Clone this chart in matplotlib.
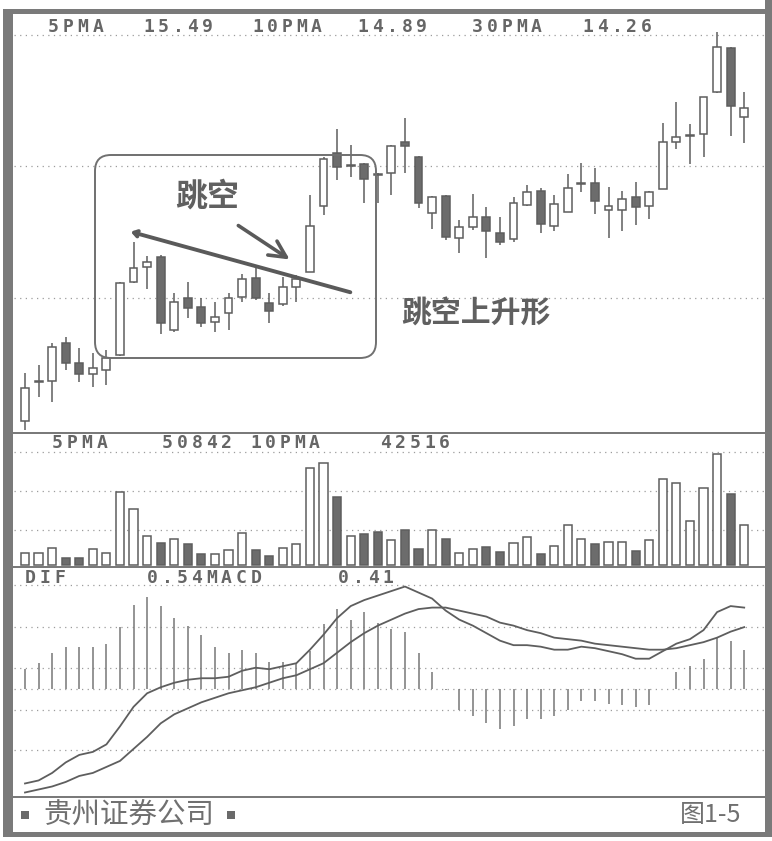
import matplotlib
matplotlib.use("Agg")
import matplotlib.pyplot as plt
from matplotlib.patches import Rectangle, FancyBboxPatch, FancyArrowPatch
from matplotlib.transforms import IdentityTransform

# ---------------- data ----------------
opens = [10.44, 11.05, 11.08, 11.67, 11.36, 11.19, 11.25, 11.48, 12.62, 12.86,
         13.01, 11.87, 12.37, 12.23, 12.00, 12.14, 12.39, 12.69, 12.30, 12.28,
         12.55, 12.78, 13.81, 14.64, 14.44, 14.47, 14.31, 14.33, 14.81, 14.58,
         13.70, 13.97, 13.31, 13.48, 13.64, 13.39, 13.30, 13.83, 14.05, 13.50,
         13.72, 14.16, 14.17, 13.75, 13.75, 13.95, 13.81, 14.08, 14.81, 14.91,
         14.94, 15.59, 16.28, 15.20]
highs = [11.20, 11.33, 11.67, 11.76, 11.59, 11.51, 11.56, 12.62, 13.25, 13.03,
         13.05, 12.45, 12.62, 12.37, 12.31, 12.45, 12.75, 12.86, 12.45, 12.70,
         12.73, 13.98, 14.58, 15.01, 14.76, 14.48, 14.33, 14.76, 15.19, 14.59,
         13.96, 13.98, 13.59, 14.00, 13.80, 13.64, 13.95, 14.14, 14.09, 13.98,
         14.31, 14.48, 14.41, 14.11, 14.05, 14.19, 14.04, 15.11, 15.44, 15.09,
         15.52, 16.53, 16.29, 15.59]
lows = [10.31, 10.83, 10.75, 11.25, 11.05, 10.98, 11.01, 11.47, 12.61, 12.51,
        11.80, 11.84, 12.06, 11.92, 11.84, 11.87, 12.31, 12.34, 11.98, 12.25,
        12.31, 12.77, 13.67, 14.22, 14.26, 13.86, 13.86, 13.98, 14.33, 13.78,
        13.45, 13.28, 13.08, 13.44, 13.00, 13.20, 13.25, 13.81, 13.39, 13.41,
        13.71, 14.03, 13.69, 13.31, 13.42, 13.51, 13.61, 14.07, 14.70, 14.47,
        14.58, 15.58, 14.91, 14.80]
closes = [10.97, 11.07, 11.61, 11.36, 11.19, 11.28, 11.44, 12.61, 12.84, 12.94,
          11.98, 12.31, 12.22, 11.98, 12.08, 12.37, 12.67, 12.37, 12.16, 12.55,
          12.67, 13.50, 14.55, 14.42, 14.45, 14.23, 14.30, 14.75, 14.75, 13.86,
          13.95, 13.33, 13.48, 13.64, 13.41, 13.25, 13.86, 14.02, 13.53, 13.84,
          14.09, 14.17, 13.89, 13.81, 13.92, 13.80, 14.03, 14.81, 14.89, 14.92,
          15.51, 16.30, 15.37, 15.34]
volumes = [9200, 9200, 12900, 4950, 4950, 11600, 9200, 54000, 41300, 21800,
           16600, 19100, 15300, 8200, 8200, 10900, 23500, 11100, 6900, 12400,
           15600, 71800, 76000, 50700, 21500, 23000, 24300, 18600, 26000, 11900,
           26000, 19300, 9200, 11900, 13600, 9700, 16600, 21000, 8200, 14100,
           29500, 19600, 15600, 16800, 16800, 10200, 18600, 64100, 60900, 32700,
           56900, 82210, 52500, 29900]
dif = [-0.63, -0.61, -0.56, -0.49, -0.44, -0.42, -0.37, -0.25, -0.12, -0.03,
       0.01, 0.04, 0.06, 0.07, 0.07, 0.08, 0.12, 0.14, 0.13, 0.15,
       0.17, 0.26, 0.36, 0.47, 0.55, 0.59, 0.62, 0.65, 0.68, 0.64,
       0.60, 0.52, 0.46, 0.42, 0.37, 0.32, 0.29, 0.29, 0.28, 0.26,
       0.26, 0.28, 0.27, 0.25, 0.23, 0.20, 0.20, 0.25, 0.30, 0.33,
       0.39, 0.51, 0.55, 0.54]
dea = [-0.69, -0.67, -0.65, -0.62, -0.58, -0.56, -0.52, -0.48, -0.40, -0.32,
       -0.23, -0.17, -0.13, -0.09, -0.06, -0.03, -0.01, 0.01, 0.04, 0.07,
       0.09, 0.13, 0.17, 0.24, 0.31, 0.37, 0.42, 0.46, 0.50, 0.53,
       0.54, 0.54, 0.52, 0.50, 0.48, 0.44, 0.42, 0.39, 0.37, 0.34,
       0.33, 0.32, 0.30, 0.29, 0.28, 0.27, 0.26, 0.26, 0.27, 0.29,
       0.31, 0.34, 0.38, 0.41]
macd_hist = [0.13, 0.17, 0.24, 0.28, 0.28, 0.28, 0.30, 0.41, 0.56, 0.61,
             0.55, 0.47, 0.42, 0.36, 0.28, 0.24, 0.26, 0.24, 0.18, 0.18,
             0.17, 0.25, 0.43, 0.53, 0.46, 0.51, 0.44, 0.40, 0.38, 0.24,
             0.11, -0.01, -0.14, -0.18, -0.23, -0.27, -0.25, -0.20, -0.20, -0.18,
             -0.14, -0.08, -0.08, -0.10, -0.11, -0.12, -0.11, 0.00, 0.11, 0.15,
             0.20, 0.34, 0.32, 0.26]

price_header = [("5PMA", 48), ("15.49", 143), ("10PMA", 252), ("14.89", 357),
                ("30PMA", 472), ("14.26", 582)]
volume_header = [("5PMA", 52), ("50842", 162), ("10PMA", 250), ("42516", 380)]
macd_header = [("DIF", 25), ("0.54MACD", 147), ("0.41", 338)]
price_grid = [16.48, 14.44, 12.37]
volume_grid = [26000, 54900, 83800]
macd_grid = [0.69, 0.41, 0.14, 0.0, -0.14, -0.41]
label_gap = "跳空"
label_pattern = "跳空上升形"
footer_left = "贵州证券公司"
footer_right = "图1-5"

# ---------------- figure ----------------
W, H = 772, 841
fig = plt.figure(figsize=(W / 100, H / 100), dpi=100)
fig.patch.set_facecolor("white")

GRAY = "#6c6c6c"
LINE = "#5e5e5e"
GRID = "#9c9c9c"
TXT = "#666666"
LEFT, RIGHT = 14, 765


def ax_at(y0, y1):
    a = fig.add_axes([LEFT / W, 1 - y1 / H, (RIGHT - LEFT) / W, (y1 - y0) / H])
    a.set_axis_off()
    a.set_xlim((LEFT - 25) / 13.57, (RIGHT - 25) / 13.57)
    return a


ax_p = ax_at(14, 433)
ax_v = ax_at(433, 567)
ax_m = ax_at(567, 797)
ax_p.set_ylim(10.26, 16.81)
ax_v.set_ylim(-1480, 97900)
ax_m.set_ylim(-0.72, 0.81)

gkw = dict(color=GRID, lw=0.9, dashes=(1, 3.5), zorder=0)
for g in price_grid:
    ax_p.axhline(g, **gkw)
for g in volume_grid:
    ax_v.axhline(g, **gkw)
for g in macd_grid:
    ax_m.axhline(g, **gkw)

n = len(closes)
xs = list(range(n))
bw = 0.58
for i in xs:
    o, h, l, c = opens[i], highs[i], lows[i], closes[i]
    up = c >= o
    ax_p.vlines(i, l, h, color=LINE, lw=1.1, zorder=2)
    lo, hi = min(o, c), max(o, c)
    ax_p.add_patch(Rectangle((i - bw / 2, lo), bw, max(hi - lo, 0.012),
                             facecolor="white" if up else GRAY,
                             edgecolor=LINE, lw=1.1, zorder=3))
    ax_v.bar(i, volumes[i], width=0.6, bottom=0,
             facecolor="white" if up else GRAY, edgecolor=LINE, lw=1.1, zorder=3)

ax_m.vlines(xs, 0, macd_hist, color="#777777", lw=1.1, zorder=2)
ax_m.plot(xs, dif, color=LINE, lw=1.3, zorder=3)
ax_m.plot(xs, dea, color=LINE, lw=1.3, zorder=3)


# ---------------- helpers in pixel coords ----------------
def fx(x):
    return x / W


def fy(y):
    return 1 - y / H


def chars(s, x, y, pitch=14.8):
    for k, ch in enumerate(s):
        fig.text(fx(x + k * pitch), fy(y), ch, ha="left", va="center",
                 family="DejaVu Sans Mono", weight="bold", fontsize=13,
                 color=TXT)


for s, x in price_header:
    chars(s, x, 27)
for s, x in volume_header:
    chars(s, x, 443)
for s, x in macd_header:
    chars(s, x, 578)

ID = IdentityTransform()


def rect(x0, y0, x1, y1, color):
    fig.add_artist(Rectangle((x0, H - y1), x1 - x0, y1 - y0, transform=ID,
                             facecolor=color, edgecolor="none", zorder=10))


FR = "#7a7a7a"
rect(3, 9, 13, 837, FR)        # left border
rect(3, 9, 772, 14, FR)        # top border
rect(765, 0, 772, 837, FR)     # right border
rect(3, 832, 772, 837, FR)     # bottom border
rect(13, 432, 765, 434, FR)    # price / volume separator
rect(13, 566, 765, 568, FR)    # volume / macd separator
rect(13, 796, 765, 798, FR)    # macd / footer separator

# annotation box, trend line, pointer arrow
fig.add_artist(FancyBboxPatch((95, H - 358), 281, 203,
                              boxstyle="round,pad=0,rounding_size=16",
                              transform=ID, facecolor="none",
                              edgecolor="#707070", lw=1.4, zorder=6))
fig.add_artist(FancyArrowPatch((353, H - 293), (128, H - 231), transform=ID,
                               arrowstyle="->,head_length=3,head_width=2",
                               color="#5a5a5a", lw=2.8, zorder=7))
fig.add_artist(FancyArrowPatch((236, H - 224), (292, H - 261), transform=ID,
                               arrowstyle="->,head_length=12,head_width=6",
                               color="#5a5a5a", lw=2.6, zorder=7))

fig.text(fx(207), fy(197), label_gap, ha="center", va="center",
         family=["Noto Sans CJK SC", "DejaVu Sans"], weight="bold",
         fontsize=23, color="#606060", zorder=8)
fig.text(fx(476), fy(314), label_pattern, ha="center", va="center",
         family=["Noto Sans CJK SC", "DejaVu Sans"], weight="bold",
         fontsize=21.5, color="#606060", zorder=8)

# footer
rect(21, 811, 29, 819, "#6a6a6a")
rect(227, 811, 235, 819, "#6a6a6a")
fig.text(fx(129), fy(815), footer_left, ha="center", va="center",
         family=["Noto Sans CJK SC", "DejaVu Sans"], fontsize=20.5,
         color="#707070", zorder=8)
fig.text(fx(711), fy(815), footer_right, ha="center", va="center",
         family=["Noto Sans CJK SC", "DejaVu Sans"], fontsize=18,
         color="#707070", zorder=8)

fig.savefig("out.png", dpi=100, facecolor="white")
